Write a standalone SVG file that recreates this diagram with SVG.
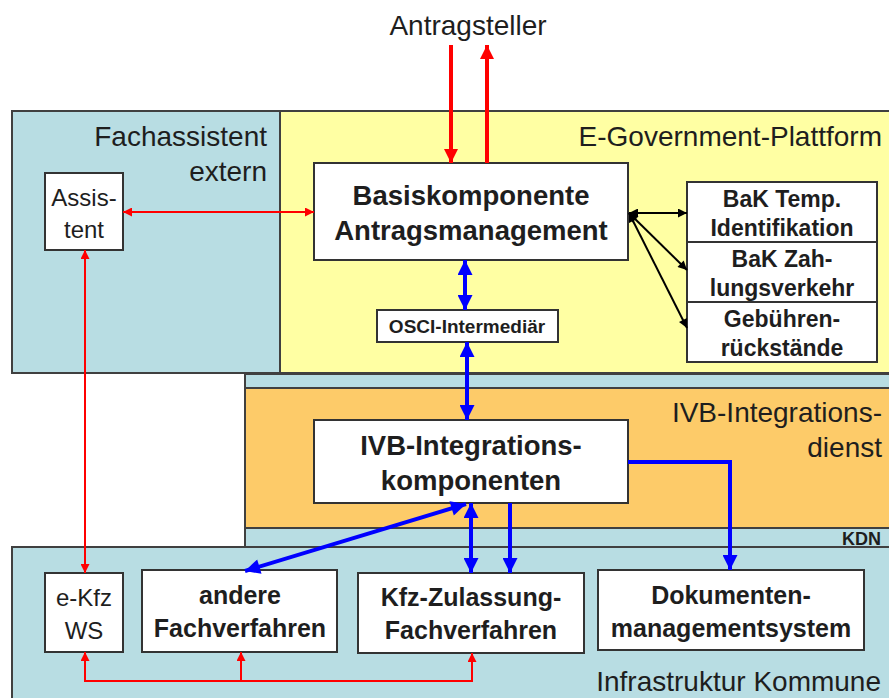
<svg xmlns="http://www.w3.org/2000/svg" width="889" height="698" viewBox="0 0 889 698">
<style>
.bg{fill:#ffffff}
.blue{fill:#b8dde3;stroke:#404040;stroke-width:2}
.yel{fill:#ffffa3;stroke:#404040;stroke-width:2}
.org{fill:#fdcb69;stroke:#404040;stroke-width:2}
.box{fill:#ffffff;stroke:#333333;stroke-width:2}
text{font-family:"Liberation Sans",Arial,sans-serif;fill:#1e1e1e}
.lg{font-size:28px}
.bl{font-size:27.5px;font-weight:bold}
.b{font-weight:bold}
.m{text-anchor:middle}
.e{text-anchor:end}
.bak{font-size:23px;font-weight:bold}
.sm{font-size:25px;font-weight:bold}
.red{stroke:#ff0000;fill:none}
.blu{stroke:#0000ff;stroke-width:4;fill:none}
.blk{stroke:#000000;stroke-width:2;fill:none}
</style>
<defs>
<marker id="rb" viewBox="0 0 10 10" refX="10" refY="5" markerUnits="userSpaceOnUse" markerWidth="16" markerHeight="14" orient="auto-start-reverse"><path d="M0,0 L10,5 L0,10 z" fill="#ff0000"/></marker>
<marker id="rs" viewBox="0 0 10 10" refX="10" refY="5" markerUnits="userSpaceOnUse" markerWidth="11" markerHeight="9" orient="auto-start-reverse"><path d="M0,0 L10,5 L0,10 z" fill="#ff0000"/></marker>
<marker id="bl" viewBox="0 0 10 10" refX="10" refY="5" markerUnits="userSpaceOnUse" markerWidth="17" markerHeight="15" orient="auto-start-reverse"><path d="M0,0 L10,5 L0,10 z" fill="#0000ff"/></marker>
<marker id="bk" viewBox="0 0 10 10" refX="10" refY="5" markerUnits="userSpaceOnUse" markerWidth="11" markerHeight="9" orient="auto-start-reverse"><path d="M0,0 L10,5 L0,10 z" fill="#000000"/></marker>
</defs>
<rect class="bg" x="0" y="0" width="889" height="698"/>
<g id="fachassistent-extern">
<rect class="blue" x="12" y="111" width="268" height="262"/>
<text class="lg e" x="267" y="146">Fachassistent</text>
<text class="lg e" x="267" y="181">extern</text>
</g>
<g id="e-government-plattform">
<rect class="yel" x="280" y="111" width="612" height="262"/>
<text class="lg e" x="882" y="146">E-Government-Plattform</text>
</g>
<g id="kdn">
<rect class="blue" x="245" y="374" width="647" height="173"/>
<text class="b e" x="881" y="545" font-size="18">KDN</text>
</g>
<g id="ivb-integrationsdienst">
<rect class="org" x="245" y="388" width="647" height="140"/>
<text class="lg e" x="882" y="422">IVB-Integrations-</text>
<text class="lg e" x="882" y="457">dienst</text>
</g>
<g id="infrastruktur-kommune">
<rect class="blue" x="12" y="547" width="880" height="155"/>
<text class="lg e" x="881" y="691">Infrastruktur Kommune</text>
</g>
<g id="antragsteller">
<text class="lg m" x="468" y="35">Antragsteller</text>
</g>
<g id="assistent">
<rect class="box" x="45" y="173" width="78" height="77"/>
<text class="m" x="84" y="206" font-size="24">Assis-</text>
<text class="m" x="84" y="238" font-size="24">tent</text>
</g>
<g id="basiskomponente">
<rect class="box" x="314" y="163" width="314" height="97"/>
<text class="bl m" x="471" y="205">Basiskomponente</text>
<text class="bl m" x="471" y="240">Antragsmanagement</text>
</g>
<g id="bak-temp">
<rect class="box" x="687" y="182" width="190" height="60"/>
<text class="bak m" x="782" y="207">BaK Temp.</text>
<text class="bak m" x="782" y="236">Identifikation</text>
</g>
<g id="bak-zahlungsverkehr">
<rect class="box" x="687" y="242" width="190" height="60"/>
<text class="bak m" x="782" y="267">BaK Zah-</text>
<text class="bak m" x="782" y="296">lungsverkehr</text>
</g>
<g id="gebuehren">
<rect class="box" x="687" y="302" width="190" height="60"/>
<text class="bak m" x="782" y="327">Gebühren-</text>
<text class="bak m" x="782" y="356">rückstände</text>
</g>
<g id="osci">
<rect class="box" x="377" y="310" width="181" height="32"/>
<text class="b m" x="467" y="333" font-size="19">OSCI-Intermediär</text>
</g>
<g id="ivb-komponenten">
<rect class="box" x="314" y="420" width="314" height="83"/>
<text class="bl m" x="471" y="455">IVB-Integrations-</text>
<text class="bl m" x="471" y="490">komponenten</text>
</g>
<g id="e-kfz-ws">
<rect class="box" x="45" y="573" width="78" height="79"/>
<text class="m" x="84" y="606" font-size="24">e-Kfz</text>
<text class="m" x="84" y="639" font-size="24">WS</text>
</g>
<g id="andere-fachverfahren">
<rect class="box" x="142" y="570" width="195" height="82"/>
<text class="sm m" x="240" y="604">andere</text>
<text class="sm m" x="240" y="637">Fachverfahren</text>
</g>
<g id="kfz-zulassung">
<rect class="box" x="358" y="573" width="226" height="80"/>
<text class="sm m" x="471" y="606">Kfz-Zulassung-</text>
<text class="sm m" x="471" y="639">Fachverfahren</text>
</g>
<g id="dokumentenmanagement">
<rect class="box" x="598" y="570" width="266" height="80"/>
<text class="sm m" x="731" y="604">Dokumenten-</text>
<text class="sm m" x="731" y="637">managementsystem</text>
</g>
<g id="connectors">
<line class="red" stroke-width="4" x1="451" y1="45" x2="451" y2="163" marker-end="url(#rb)"/>
<line class="red" stroke-width="4" x1="487" y1="163" x2="487" y2="45" marker-end="url(#rb)"/>
<line class="red" stroke-width="2" x1="123" y1="212" x2="314" y2="212" marker-start="url(#rs)" marker-end="url(#rs)"/>
<line class="red" stroke-width="2" x1="85" y1="250" x2="85" y2="573" marker-start="url(#rs)" marker-end="url(#rs)"/>
<path class="red" stroke-width="2" d="M85,652 V681 H472 V653" marker-start="url(#rs)" marker-end="url(#rs)"/>
<line class="red" stroke-width="2" x1="241" y1="681" x2="241" y2="652" marker-end="url(#rs)"/>
<line class="blu" x1="465" y1="260" x2="465" y2="310" marker-start="url(#bl)" marker-end="url(#bl)"/>
<line class="blu" x1="467" y1="342" x2="467" y2="420" marker-start="url(#bl)" marker-end="url(#bl)"/>
<path class="blu" d="M628,462 H730 V570" marker-end="url(#bl)"/>
<line class="blu" x1="466" y1="504" x2="245" y2="571" marker-start="url(#bl)" marker-end="url(#bl)"/>
<line class="blu" x1="471" y1="503" x2="471" y2="573" marker-start="url(#bl)" marker-end="url(#bl)"/>
<line class="blu" x1="510" y1="503" x2="510" y2="573" marker-end="url(#bl)"/>
<line class="blk" x1="629" y1="213" x2="687" y2="213" marker-start="url(#bk)" marker-end="url(#bk)"/>
<line class="blk" x1="629" y1="213" x2="687" y2="270" marker-start="url(#bk)" marker-end="url(#bk)"/>
<line class="blk" x1="629" y1="213" x2="687" y2="328" marker-start="url(#bk)" marker-end="url(#bk)"/>
</g>
</svg>
